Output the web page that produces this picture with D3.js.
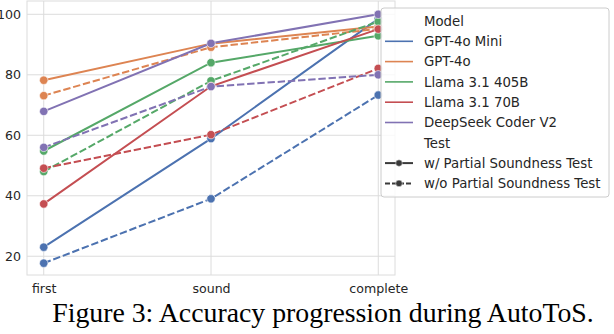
<!DOCTYPE html>
<html><head><meta charset="utf-8">
<script src="https://cdn.jsdelivr.net/npm/d3@7"></script>
<style>html,body{margin:0;padding:0;background:#fff;overflow:hidden}</style>
</head><body>
<svg id="c" width="614" height="334"></svg>
<script>
const stages = ["first", "sound", "complete"];
const models = ["GPT-4o Mini", "GPT-4o", "Llama 3.1 405B", "Llama 3.1 70B", "DeepSeek Coder V2"];
const colors = ["#4c72b0", "#dd8452", "#55a868", "#c44e52", "#8172b3"];
const tests = ["w/ Partial Soundness Test", "w/o Partial Soundness Test"];
// values per model: [with test], [without test]
const withTest = [
  [23.0, 58.9, 98.5],
  [78.2, 90.3, 96.0],
  [54.8, 84.0, 92.9],
  [37.3, 76.2, 95.1],
  [67.9, 90.4, 100.0]
];
const withoutTest = [
  [17.7, 39.0, 73.3],
  [73.1, 89.1, 95.2],
  [48.0, 78.0, 97.6],
  [49.1, 60.2, 82.1],
  [56.0, 76.1, 80.0]
];
const yTicks = [20, 40, 60, 80, 100];

const svg = d3.select("#c");
const L = 27, R = 395, T = 1, B = 275;
const x = d3.scaleLinear().domain([-0.1, 2.1]).range([L, R]);
const y = d3.scaleLinear().domain([13.8, 104.4]).range([B, T]);
const grid = "#dcdcdc", txt = "#262626";

// grid
const g = svg.append("g");
g.selectAll(".gy").data(yTicks).enter().append("line")
  .attr("x1", L).attr("x2", R).attr("y1", d => y(d)).attr("y2", d => y(d))
  .attr("stroke", grid).attr("stroke-width", 1);
g.selectAll(".gx").data(stages).enter().append("line")
  .attr("x1", (d, i) => x(i)).attr("x2", (d, i) => x(i)).attr("y1", T).attr("y2", B)
  .attr("stroke", grid).attr("stroke-width", 1);
g.append("rect").attr("x", L).attr("y", T).attr("width", R - L).attr("height", B - T)
  .attr("fill", "none").attr("stroke", grid).attr("stroke-width", 1);

// axes labels
const yAxis = d3.axisLeft(y).tickValues(yTicks).tickSize(0).tickPadding(6);
const ya = svg.append("g").attr("transform", `translate(${L},0)`).call(yAxis);
ya.select(".domain").remove();
ya.selectAll("text").attr("font-family", "DejaVu Sans").attr("font-size", 12.6).attr("fill", txt);
const xAxis = d3.axisBottom(x).tickValues([0, 1, 2]).tickFormat(i => stages[i]).tickSize(0).tickPadding(9);
const xa = svg.append("g").attr("transform", `translate(0,${B})`).call(xAxis);
xa.select(".domain").remove();
xa.selectAll("text").attr("font-family", "DejaVu Sans").attr("font-size", 12.6).attr("fill", txt);

// lines
const line = d3.line().x((d, i) => x(i)).y(d => y(d));
const dash = "7.4,2.8";
models.forEach((m, k) => {
  [withTest[k], withoutTest[k]].forEach((vals, s) => {
    const gg = svg.append("g");
    gg.append("path").datum(vals).attr("d", line).attr("fill", "none")
      .attr("stroke", colors[k]).attr("stroke-width", 2)
      .attr("stroke-dasharray", s ? dash : null);
    gg.selectAll("circle").data(vals).enter().append("circle")
      .attr("cx", (d, i) => x(i)).attr("cy", d => y(d)).attr("r", 4.2)
      .attr("fill", colors[k]).attr("stroke", "#fff").attr("stroke-width", 0.6);
  });
});

// legend
const lg = svg.append("g");
lg.append("rect").attr("x", 381).attr("y", 8).attr("width", 228).attr("height", 189)
  .attr("rx", 3).attr("fill", "#fff").attr("fill-opacity", 0.8)
  .attr("stroke", "#cccccc").attr("stroke-width", 1);
const rowY = i => 21 + i * 20.3;
const items = [{t: "Model", title: true}]
  .concat(models.map((m, k) => ({t: m, c: colors[k]})))
  .concat([{t: "Test", title: true}])
  .concat(tests.map((t, s) => ({t: t, c: "#3a3a3a", s: s, marker: true})));
items.forEach((it, i) => {
  const yy = rowY(i);
  if (!it.title) {
    lg.append("line").attr("x1", 385).attr("x2", 413).attr("y1", yy).attr("y2", yy)
      .attr("stroke", it.c).attr("stroke-width", it.marker ? 2 : 1.6)
      .attr("stroke-dasharray", it.s ? "5,2" : null);
    if (it.marker) lg.append("circle").attr("cx", 399).attr("cy", yy).attr("r", 3.3)
      .attr("fill", it.c).attr("stroke", "#fff").attr("stroke-width", 0.5);
  }
  lg.append("text").attr("x", 424).attr("y", yy).attr("dy", "0.36em")
    .attr("font-family", "DejaVu Sans").attr("font-size", 13.3).attr("fill", txt).text(it.t);
});

// caption
svg.append("text").attr("x", 323).attr("y", 322).attr("text-anchor", "middle")
  .attr("font-family", "Liberation Serif").attr("font-size", 27.8).attr("fill", "#000")
  .text("Figure 3: Accuracy progression during AutoToS.");
</script>
</body></html>
